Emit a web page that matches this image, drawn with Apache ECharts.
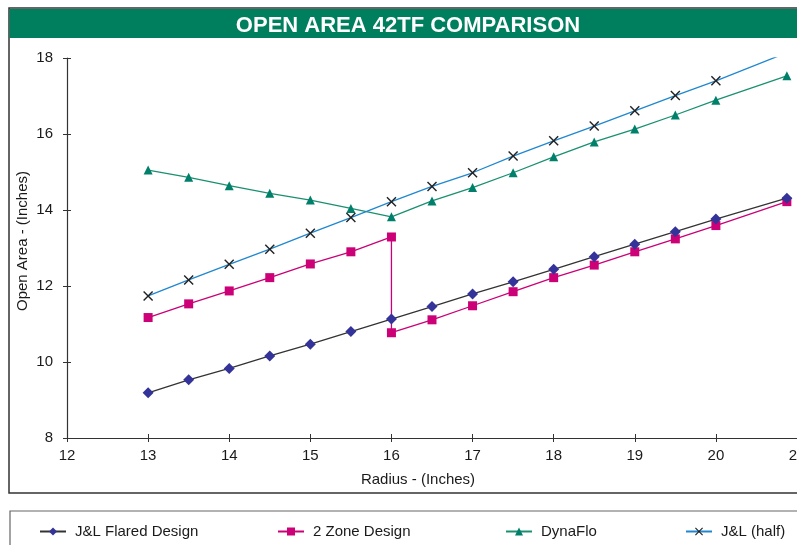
<!DOCTYPE html>
<html>
<head>
<meta charset="utf-8">
<script src="https://cdn.jsdelivr.net/npm/echarts@6/dist/echarts.min.js"></script>
<style>
  html, body { margin: 0; padding: 0; background: #fff; }
  #chart { width: 797px; height: 545px; }
</style>
</head>
<body>
<div id="chart"></div>
<script>
// radius values (inches)
const radius = [13, 13.5, 14, 14.5, 15, 15.5, 16, 16.5, 17, 17.5, 18, 18.5, 19, 19.5, 20, 20.875]
// 2 zone design steps down at 16, so it carries two points there
const radius2Zone = [13, 13.5, 14, 14.5, 15, 15.5, 16, 16, 16.5, 17, 17.5, 18, 18.5, 19, 19.5, 20, 20.875]

const flared = [9.19, 9.53, 9.83, 10.16, 10.47, 10.80, 11.13, 11.46, 11.79, 12.11, 12.44, 12.77, 13.10, 13.43, 13.76, 14.31]
const twoZone = [11.17, 11.53, 11.87, 12.22, 12.58, 12.90, 13.29, 10.77, 11.11, 11.48, 11.85, 12.22, 12.55, 12.90, 13.24, 13.59, 14.22]
const dynaFlo = [15.05, 14.86, 14.64, 14.44, 14.26, 14.04, 13.82, 14.24, 14.59, 14.98, 15.40, 15.79, 16.13, 16.50, 16.89, 17.53]
const jlHalf = [11.74, 12.16, 12.57, 12.97, 13.39, 13.80, 14.22, 14.62, 14.98, 15.42, 15.82, 16.21, 16.61, 17.01, 17.40, 18.14]

const seriesNames = ['J&L Flared Design', '2 Zone Design', 'DynaFlo', 'J&L (half)']
const legendLeft = [34, 272, 500, 680]

const crossPath = 'path://M0,1L1,0L5,4L9,0L10,1L6,5L10,9L9,10L5,6L1,10L0,9L4,5Z'

function pairs(xs, ys) {
  return xs.map((x, i) => [x, ys[i]])
}

const chart = echarts.init(document.getElementById('chart'))
const font = 'Liberation Sans, Arial, sans-serif'

// shared axis styling, second copy of each axis draws the inner half of the ticks
const xBase = {
  type: 'value',
  min: 12,
  max: 21,
  interval: 1,
  position: 'bottom',
  splitLine: { show: false }
}
const yBase = {
  type: 'value',
  min: 8,
  max: 18,
  interval: 2,
  position: 'left',
  splitLine: { show: false }
}

chart.setOption({
  animation: false,
  textStyle: { fontFamily: font },
  graphic: [
    {
      type: 'rect',
      shape: { x: 9, y: 8, width: 800, height: 485 },
      style: { fill: 'none', stroke: '#333', lineWidth: 1.5 },
      z: 0
    },
    {
      type: 'rect',
      shape: { x: 9.5, y: 9, width: 800, height: 29 },
      style: { fill: '#007f5f' },
      z: 0
    },
    {
      type: 'rect',
      shape: { x: 10, y: 511, width: 800, height: 50 },
      style: { fill: 'none', stroke: '#666', lineWidth: 1.2 },
      z: 0
    }
  ],
  title: {
    text: 'OPEN AREA 42TF COMPARISON',
    left: 403,
    textAlign: 'center',
    top: 10,
    textStyle: { color: '#fff', fontSize: 22, fontWeight: 'bold', fontFamily: font }
  },
  legend: seriesNames.map((name, i) => ({
    data: [name],
    left: legendLeft[i],
    top: 519,
    itemWidth: 26,
    itemHeight: 10,
    textStyle: { fontSize: 15, color: '#1a1a1a', fontFamily: font, padding: [0, 0, 0, 4] }
  })),
  grid: {
    left: 67,
    right: 0,
    top: 58,
    bottom: 107,
    outerBoundsMode: 'none'
  },
  xAxis: [
    Object.assign({}, xBase, {
      name: 'Radius - (Inches)',
      nameLocation: 'middle',
      nameGap: 34,
      nameMoveOverlap: false,
      nameTextStyle: { fontSize: 15, color: '#1a1a1a', padding: [0, 28, 0, 0] },
      axisLine: { lineStyle: { color: '#333', width: 1.2 } },
      axisTick: { length: 4, lineStyle: { color: '#333' } },
      axisLabel: { fontSize: 15, color: '#1a1a1a', margin: 10 }
    }),
    Object.assign({}, xBase, {
      axisLine: { show: false },
      axisTick: { inside: true, length: 4, lineStyle: { color: '#333' } },
      axisLabel: { show: false }
    })
  ],
  yAxis: [
    Object.assign({}, yBase, {
      name: 'Open Area - (Inches)',
      nameLocation: 'middle',
      nameGap: 37,
      nameMoveOverlap: false,
      nameTextStyle: { fontSize: 15, color: '#1a1a1a', padding: [0, 0, 0, 14] },
      axisLine: { show: true, lineStyle: { color: '#333', width: 1.2 } },
      axisTick: { show: true, length: 4, lineStyle: { color: '#333' } },
      axisLabel: { fontSize: 15, color: '#1a1a1a', margin: 14 }
    }),
    Object.assign({}, yBase, {
      axisLine: { show: false },
      axisTick: { show: true, inside: true, length: 4, lineStyle: { color: '#333' } },
      axisLabel: { show: false }
    })
  ],
  series: [
    {
      name: seriesNames[0],
      type: 'line',
      data: pairs(radius, flared),
      symbol: 'diamond',
      symbolSize: 11,
      itemStyle: { color: '#333399' },
      lineStyle: { color: '#333', width: 1.3 },
      z: 3
    },
    {
      name: seriesNames[1],
      type: 'line',
      data: pairs(radius2Zone, twoZone),
      symbol: 'rect',
      symbolSize: 9,
      itemStyle: { color: '#cc0077' },
      lineStyle: { color: '#cc0077', width: 1.3 },
      z: 2
    },
    {
      name: seriesNames[2],
      type: 'line',
      data: pairs(radius, dynaFlo),
      symbol: 'triangle',
      symbolSize: 9,
      itemStyle: { color: '#00806a' },
      lineStyle: { color: '#1a9070', width: 1.3 },
      z: 2
    },
    {
      name: seriesNames[3],
      type: 'line',
      data: pairs(radius, jlHalf),
      symbol: crossPath,
      symbolSize: 10,
      itemStyle: { color: '#222' },
      lineStyle: { color: '#1f88d0', width: 1.3 },
      z: 2
    }
  ]
})
</script>
</body>
</html>
